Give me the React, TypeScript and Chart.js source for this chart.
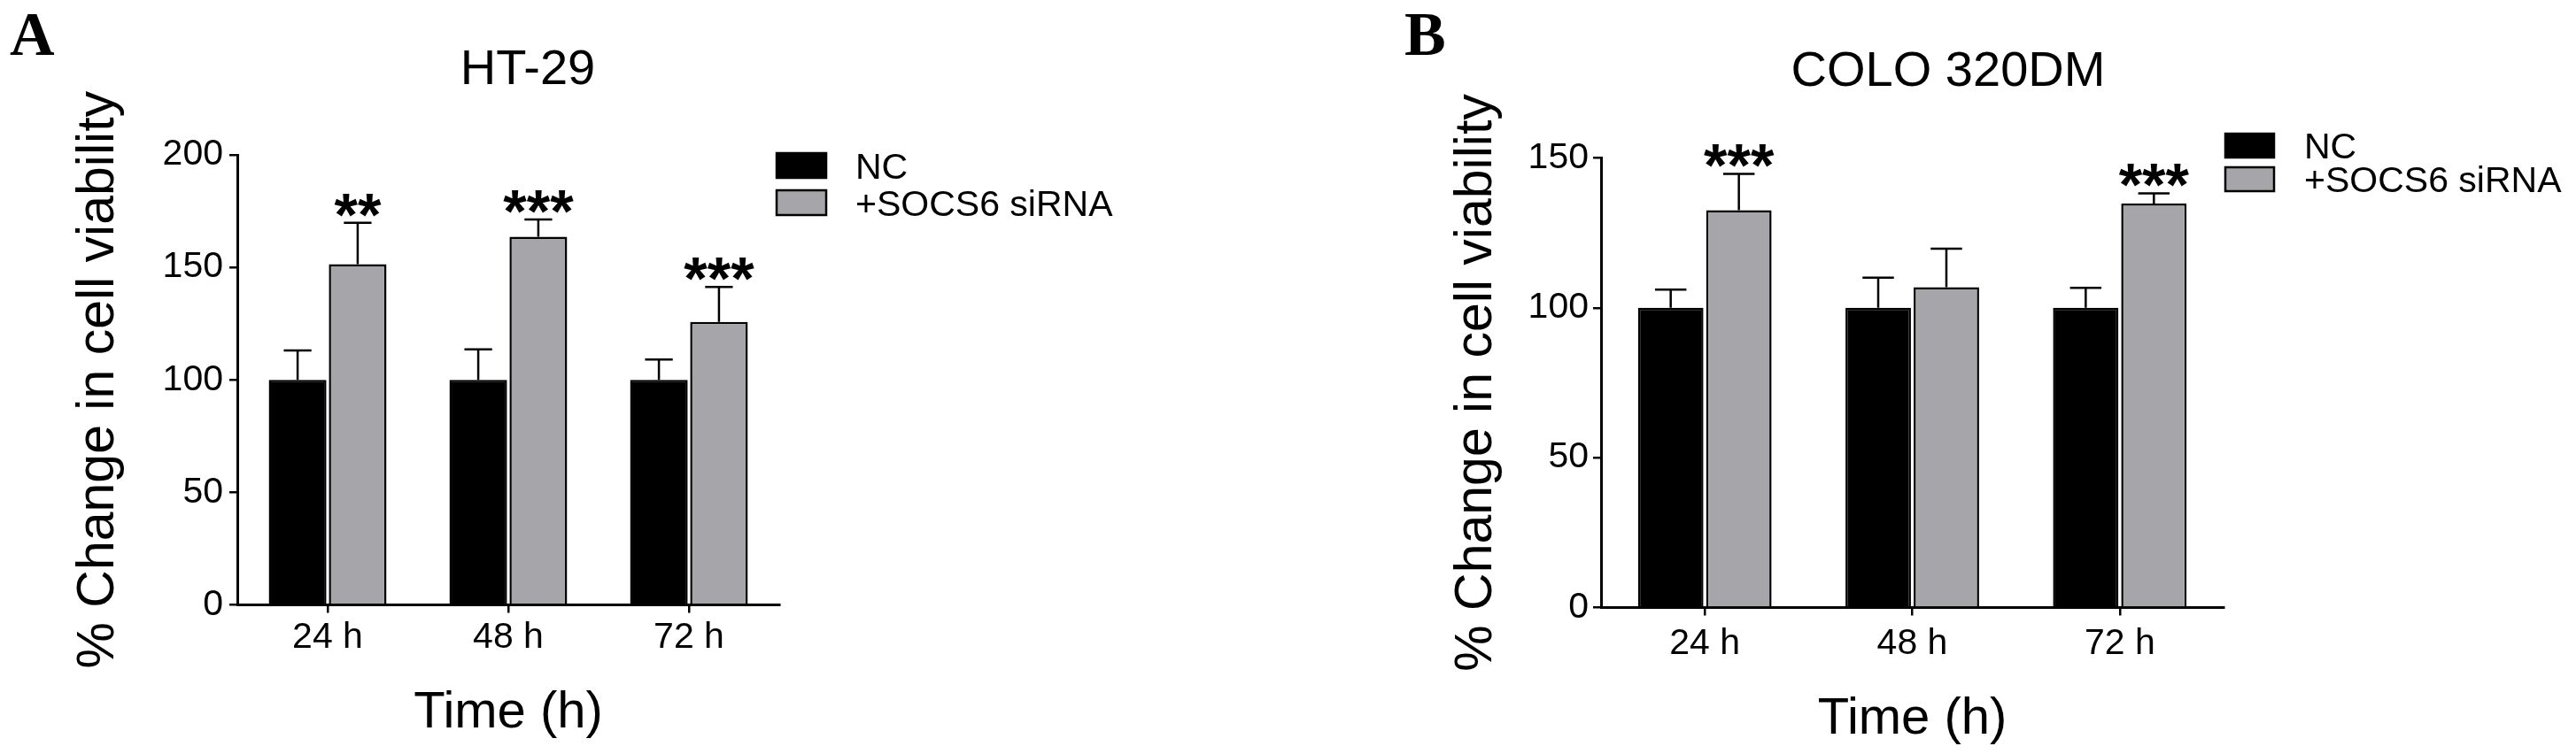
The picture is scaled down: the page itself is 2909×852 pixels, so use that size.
import React, { useEffect, useRef } from "react";
import { Chart, registerables } from "chart.js";
Chart.register(...registerables);

// ---------- data ----------
const categories = ["24 h", "48 h", "72 h"];
const seriesLabels = ["NC", "+SOCS6 siRNA"];

const htNcMean = [100, 100, 100];
const htNcSd = [13.1, 13.6, 9.0];
const htSiMean = [151.4, 163.6, 125.8];
const htSiSd = [18.4, 7.7, 15.5];
const htStars = ["**", "***", "***"];
const htTicks = [0, 50, 100, 150, 200];

const coloNcMean = [100, 100, 100];
const coloNcSd = [6.1, 10.1, 6.7];
const coloSiMean = [132.6, 106.9, 134.8];
const coloSiSd = [12.1, 12.8, 3.4];
const coloStars = ["***", "", "***"];
const coloTicks = [0, 50, 100, 150];

const yTitle = "% Change in cell viability";
const xTitle = "Time (h)";

// ---------- styling ----------
const SANS = '"Liberation Sans", Arial, Helvetica, sans-serif';
const SERIF = '"Liberation Serif", "Times New Roman", serif';
const NC_COLOR = "#000000";
const SI_COLOR = "#a6a6aa";
const H = 852;

type Panel = {
  letter: string; letterX: number; letterY: number;
  title: string; titleX: number; titleY: number;
  left: number; width: number;
  padLeft: number; yScaleWidth: number; padTop: number; padRight: number;
  xScaleHeight: number; xTitlePadBottom: number; yTickPad: number; xTickPad: number;
  legendX: number; legendY: number; legendGap: number; boxW: number; boxH: number; legendTextX: number;
  catPct: number; barPct: number;
  ncMean: number[]; ncSd: number[]; siMean: number[]; siSd: number[]; stars: string[]; ticks: number[];
};

const panels: Panel[] = [
  {
    letter: "A", letterX: 11, letterY: 62,
    title: "HT-29", titleX: 596, titleY: 95,
    left: 0, width: 1440,
    padLeft: 76, yScaleWidth: 192, padTop: 175, padRight: 560,
    xScaleHeight: 168.5, xTitlePadBottom: 11, yTickPad: 7, xTickPad: 4,
    legendX: 877, legendY: 173, legendGap: 42, boxW: 56, boxH: 28, legendTextX: 966,
    catPct: 0.665, barPct: 0.96,
    ncMean: htNcMean, ncSd: htNcSd, siMean: htSiMean, siSd: htSiSd, stars: htStars, ticks: htTicks,
  },
  {
    letter: "B", letterX: 146, letterY: 62,
    title: "COLO 320DM", titleX: 760, titleY: 97,
    left: 1440, width: 1469,
    padLeft: 192, yScaleWidth: 176, padTop: 178.5, padRight: 398,
    xScaleHeight: 165.5, xTitlePadBottom: 4, yTickPad: 5, xTickPad: 8,
    legendX: 1073, legendY: 151, legendGap: 38, boxW: 55, boxH: 27, legendTextX: 1162,
    catPct: 0.657, barPct: 0.96,
    ncMean: coloNcMean, ncSd: coloNcSd, siMean: coloSiMean, siSd: coloSiSd, stars: coloStars, ticks: coloTicks,
  },
];

function makeOverlay(p: Panel) {
  return {
    id: "overlay" + p.letter,
    afterDatasetsDraw(chart: any) {
      const ctx = chart.ctx;
      const y = chart.scales.y;
      chart.data.datasets.forEach((ds: any, di: number) => {
        const meta = chart.getDatasetMeta(di);
        meta.data.forEach((el: any, i: number) => {
          const top = y.getPixelForValue(ds.data[i] + ds.sd[i]);
          const half = el.width * 0.24;
          ctx.save();
          ctx.strokeStyle = "#000";
          ctx.lineWidth = 2.5;
          ctx.beginPath();
          ctx.moveTo(el.x, el.y);
          ctx.lineTo(el.x, top);
          ctx.moveTo(el.x - half, top);
          ctx.lineTo(el.x + half, top);
          ctx.stroke();
          ctx.restore();
          const s = ds.stars ? ds.stars[i] : "";
          if (s) {
            ctx.save();
            ctx.fillStyle = "#000";
            ctx.font = `bold 68px ${SANS}`;
            ctx.textAlign = "center";
            ctx.textBaseline = "alphabetic";
            ctx.fillText(s, el.x, top + 14);
            ctx.restore();
          }
        });
      });
    },
    afterDraw(chart: any) {
      const ctx = chart.ctx;
      ctx.save();
      ctx.fillStyle = "#000";
      ctx.textBaseline = "alphabetic";
      ctx.textAlign = "left";
      ctx.font = `bold 70px ${SERIF}`;
      ctx.fillText(p.letter, p.letterX, p.letterY);
      ctx.textAlign = "center";
      ctx.font = `56px ${SANS}`;
      ctx.fillText(p.title, p.titleX, p.titleY);
      // legend
      chart.data.datasets.forEach((ds: any, di: number) => {
        const by = p.legendY + di * p.legendGap;
        ctx.fillStyle = ds.backgroundColor;
        ctx.fillRect(p.legendX, by, p.boxW, p.boxH);
        ctx.strokeStyle = "#000";
        ctx.lineWidth = 2.5;
        ctx.strokeRect(p.legendX, by, p.boxW, p.boxH);
        ctx.fillStyle = "#000";
        ctx.font = `41px ${SANS}`;
        ctx.textAlign = "left";
        ctx.textBaseline = "alphabetic";
        ctx.fillText(ds.label, p.legendTextX, by + p.boxH / 2 + 14.5);
      });
      ctx.restore();
    },
  };
}

function PanelChart({ p }: { p: Panel }) {
  const ref = useRef<HTMLCanvasElement>(null);
  useEffect(() => {
    if (!ref.current) return;
    const chart = new Chart(ref.current, {
      type: "bar",
      data: {
        labels: categories,
        datasets: [
          {
            label: seriesLabels[0], data: p.ncMean, sd: p.ncSd, stars: [],
            backgroundColor: NC_COLOR, borderColor: "#000", borderWidth: 2.5,
            categoryPercentage: p.catPct, barPercentage: p.barPct,
          } as any,
          {
            label: seriesLabels[1], data: p.siMean, sd: p.siSd, stars: p.stars,
            backgroundColor: SI_COLOR, borderColor: "#000", borderWidth: 2.5,
            categoryPercentage: p.catPct, barPercentage: p.barPct,
          } as any,
        ],
      },
      options: {
        responsive: false,
        animation: false,
        devicePixelRatio: 1,
        layout: { padding: { left: p.padLeft, top: p.padTop, right: p.padRight, bottom: 0 } },
        plugins: { legend: { display: false }, tooltip: { enabled: false }, title: { display: false } },
        scales: {
          x: {
            type: "category",
            offset: true,
            grid: { display: true, drawOnChartArea: false, drawTicks: true, tickLength: 9, offset: false, color: "#000", lineWidth: 2.5 },
            border: { display: true, color: "#000", width: 3 },
            ticks: { color: "#000", font: { family: SANS, size: 41 }, padding: p.xTickPad, maxRotation: 0, autoSkip: false },
            title: { display: true, text: xTitle, color: "#000", font: { family: SANS, size: 58 }, padding: { top: 0, bottom: p.xTitlePadBottom } },
            afterFit: (s: any) => { s.height = p.xScaleHeight; },
          },
          y: {
            min: 0,
            max: p.ticks[p.ticks.length - 1],
            grid: { display: true, drawOnChartArea: false, drawTicks: true, tickLength: 9, color: "#000", lineWidth: 2.5 },
            border: { display: true, color: "#000", width: 3 },
            ticks: { color: "#000", font: { family: SANS, size: 41 }, padding: p.yTickPad },
            afterBuildTicks: (s: any) => { s.ticks = p.ticks.map((v) => ({ value: v })); },
            title: { display: true, text: yTitle, color: "#000", font: { family: SANS, size: 59 }, padding: { top: 0, bottom: 0 } },
            afterFit: (s: any) => { s.width = p.yScaleWidth; },
          },
        },
      } as any,
      plugins: [makeOverlay(p)],
    });
    return () => chart.destroy();
  }, [p]);
  return (
    <canvas
      ref={ref}
      width={p.width}
      height={H}
      style={{ position: "absolute", left: p.left, top: 0, width: p.width, height: H }}
    />
  );
}

export default function App() {
  return (
    <div style={{ position: "absolute", left: 0, top: 0, width: 2909, height: H, background: "#fff", overflow: "hidden" }}>
      {panels.map((p) => (
        <PanelChart key={p.letter} p={p} />
      ))}
    </div>
  );
}
